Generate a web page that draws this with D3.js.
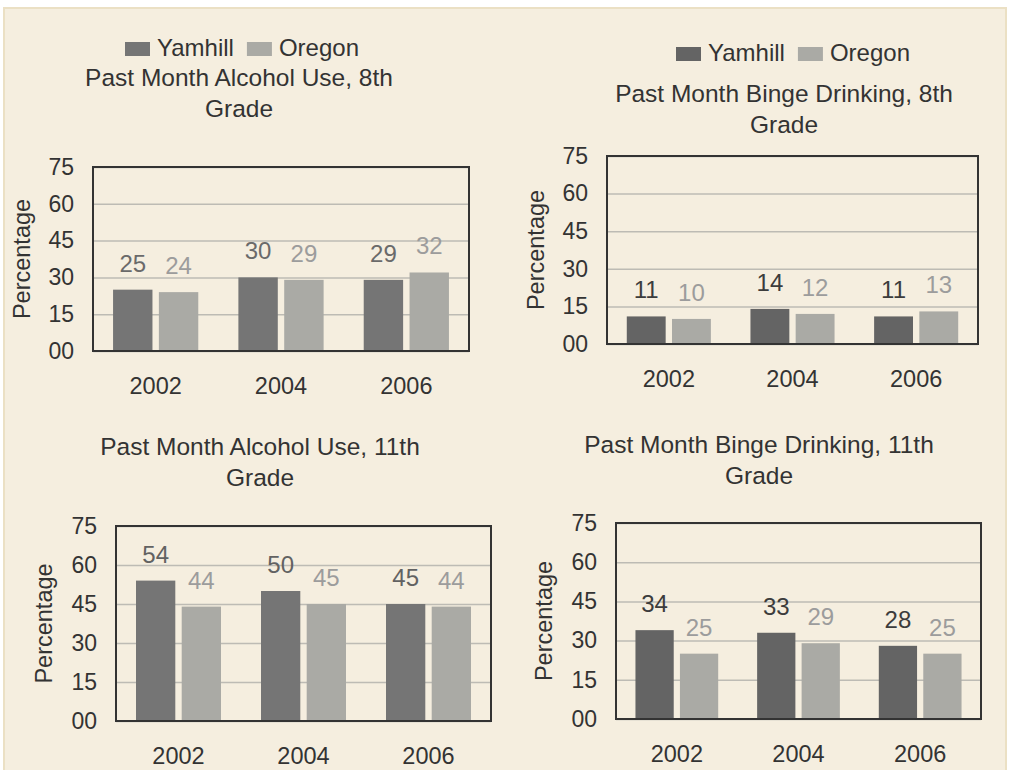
<!DOCTYPE html>
<html>
<head>
    <title>Yamhill vs Oregon</title>
    <script src='https://cdn.jsdelivr.net/npm/d3@7'></script>
    <style type='text/css'>
        html, body {
            margin: 0;
            padding: 0;
            background: white;
            overflow: hidden;
        }
        text {
            font-family: 'Liberation Sans', Arial, sans-serif;
            fill: #333;
        }
    </style>
</head>
<body>
<script>
    // Data:
    const years = ['2002', '2004', '2006'];
    const seriesNames = ['Yamhill', 'Oregon'];
    const yTicks = [0, 15, 30, 45, 60, 75];

    const alcohol8Yamhill = [25, 30, 29];
    const alcohol8Oregon = [24, 29, 32];
    const binge8Yamhill = [11, 14, 11];
    const binge8Oregon = [10, 12, 13];
    const alcohol11Yamhill = [54, 50, 45];
    const alcohol11Oregon = [44, 45, 44];
    const binge11Yamhill = [34, 33, 28];
    const binge11Oregon = [25, 29, 25];

    const W = 1011, H = 770;
    const svg = d3.select('body').append('svg').attr('width', W).attr('height', H);

    // beige card behind everything
    svg.append('rect')
        .attr('x', 4).attr('y', 8).attr('width', 1002).attr('height', H)
        .attr('fill', '#f5eedf')
        .attr('stroke', '#ebe0c4').attr('stroke-width', 2);

    // panel layout (positions only)
    const panels = [
        { title: ['Past Month Alcohol Use, 8th', 'Grade'], yam: alcohol8Yamhill, ore: alcohol8Oregon,
          box: { x0: 93, x1: 469, y0: 167, y1: 351 }, titleX: 239, titleY: 86, ylabX: 22,
          legend: { x: 125, y: 56 }, yamColor: '#757575', yamText: '#6a6a6a' },
        { title: ['Past Month Binge Drinking, 8th', 'Grade'], yam: binge8Yamhill, ore: binge8Oregon,
          box: { x0: 607, x1: 978, y0: 156, y1: 344 }, titleX: 784, titleY: 102, ylabX: 536,
          legend: { x: 676, y: 61 }, yamColor: '#646464', yamText: '#3c3c3c' },
        { title: ['Past Month Alcohol Use, 11th', 'Grade'], yam: alcohol11Yamhill, ore: alcohol11Oregon,
          box: { x0: 116, x1: 491, y0: 526, y1: 721 }, titleX: 260, titleY: 455, ylabX: 44,
          legend: null, yamColor: '#757575', yamText: '#626262' },
        { title: ['Past Month Binge Drinking, 11th', 'Grade'], yam: binge11Yamhill, ore: binge11Oregon,
          box: { x0: 616, x1: 981, y0: 523, y1: 719 }, titleX: 759, titleY: 453, ylabX: 544,
          legend: null, yamColor: '#646464', yamText: '#3c3c3c' }
    ];
    const oreColor = '#aaaaa5';
    const oreText = '#9c9c9c';
    const fs = 23;          // axis text
    const titleFs = 24.5;   // titles
    const legendFs = 24;

    panels.forEach(p => {
        const g = svg.append('g');
        const b = p.box;

        const x = d3.scaleBand().domain(years).range([b.x0, b.x1]);
        const inner = d3.scaleBand().domain(seriesNames)
            .range([x.bandwidth() * 0.16, x.bandwidth() * 0.84]).paddingInner(0.14);
        const y = d3.scaleLinear().domain([0, 75]).range([b.y1, b.y0]);

        // gridlines
        g.append('g')
            .attr('transform', `translate(${b.x0},0)`)
            .call(d3.axisLeft(y).tickValues(yTicks).tickSize(-(b.x1 - b.x0)).tickFormat(''))
            .call(a => a.select('.domain').remove())
            .call(a => a.selectAll('line').attr('stroke', '#bdbbb4').attr('stroke-width', 1.5));

        // tick labels
        g.append('g')
            .attr('transform', `translate(${b.x0 - 19},0)`)
            .call(d3.axisLeft(y).tickValues(yTicks).tickSize(0).tickPadding(0)
                .tickFormat(d => d === 0 ? '00' : d))
            .call(a => a.select('.domain').remove())
            .call(a => a.selectAll('text').attr('font-size', fs).attr('fill', '#333')
                .attr('font-family', "'Liberation Sans', Arial, sans-serif"));

        // category labels
        g.append('g')
            .attr('transform', `translate(0,${b.y1})`)
            .call(d3.axisBottom(x).tickSize(0).tickPadding(26))
            .call(a => a.select('.domain').remove())
            .call(a => a.selectAll('text').attr('font-size', fs + 0.5).attr('fill', '#333')
                .attr('font-family', "'Liberation Sans', Arial, sans-serif"));

        // bars
        const rows = years.map((yr, i) => ({ yr, vals: [
            { s: 'Yamhill', v: p.yam[i], fill: p.yamColor, txt: p.yamText },
            { s: 'Oregon', v: p.ore[i], fill: oreColor, txt: oreText }
        ] }));
        const grp = g.selectAll('.cat').data(rows).join('g')
            .attr('transform', d => `translate(${x(d.yr)},0)`);
        grp.selectAll('rect').data(d => d.vals).join('rect')
            .attr('x', d => inner(d.s))
            .attr('width', inner.bandwidth())
            .attr('y', d => y(d.v))
            .attr('height', d => b.y1 - y(d.v))
            .attr('fill', d => d.fill);
        grp.selectAll('text').data(d => d.vals).join('text')
            .attr('x', d => inner(d.s) + inner.bandwidth() / 2)
            .attr('y', d => y(d.v) - 18)
            .attr('text-anchor', 'middle')
            .attr('font-size', 24)
            .style('fill', d => d.txt)
            .text(d => d.v);

        // frame
        g.append('rect')
            .attr('x', b.x0).attr('y', b.y0)
            .attr('width', b.x1 - b.x0).attr('height', b.y1 - b.y0)
            .attr('fill', 'none').attr('stroke', '#333').attr('stroke-width', 2);

        // y label
        g.append('text')
            .attr('transform', `translate(${p.ylabX + 8},${(b.y0 + b.y1) / 2}) rotate(-90)`)
            .attr('text-anchor', 'middle')
            .attr('font-size', 23.5)
            .text('Percentage');

        // title
        g.append('text')
            .attr('text-anchor', 'middle')
            .attr('font-size', titleFs)
            .selectAll('tspan').data(p.title).join('tspan')
            .attr('x', p.titleX)
            .attr('y', (d, i) => p.titleY + i * 31)
            .text(d => d);

        // legend
        if (p.legend) {
            const lg = g.append('g').attr('transform', `translate(${p.legend.x},${p.legend.y})`);
            let cx = 0;
            seriesNames.forEach((s, i) => {
                lg.append('rect').attr('x', cx).attr('y', -14).attr('width', 25).attr('height', 14)
                    .attr('fill', i === 0 ? p.yamColor : oreColor);
                const t = lg.append('text').attr('x', cx + 32).attr('font-size', legendFs).text(s);
                cx += 32 + t.node().getComputedTextLength() + 13;
            });
        }
    });
</script>
</body>
</html>
